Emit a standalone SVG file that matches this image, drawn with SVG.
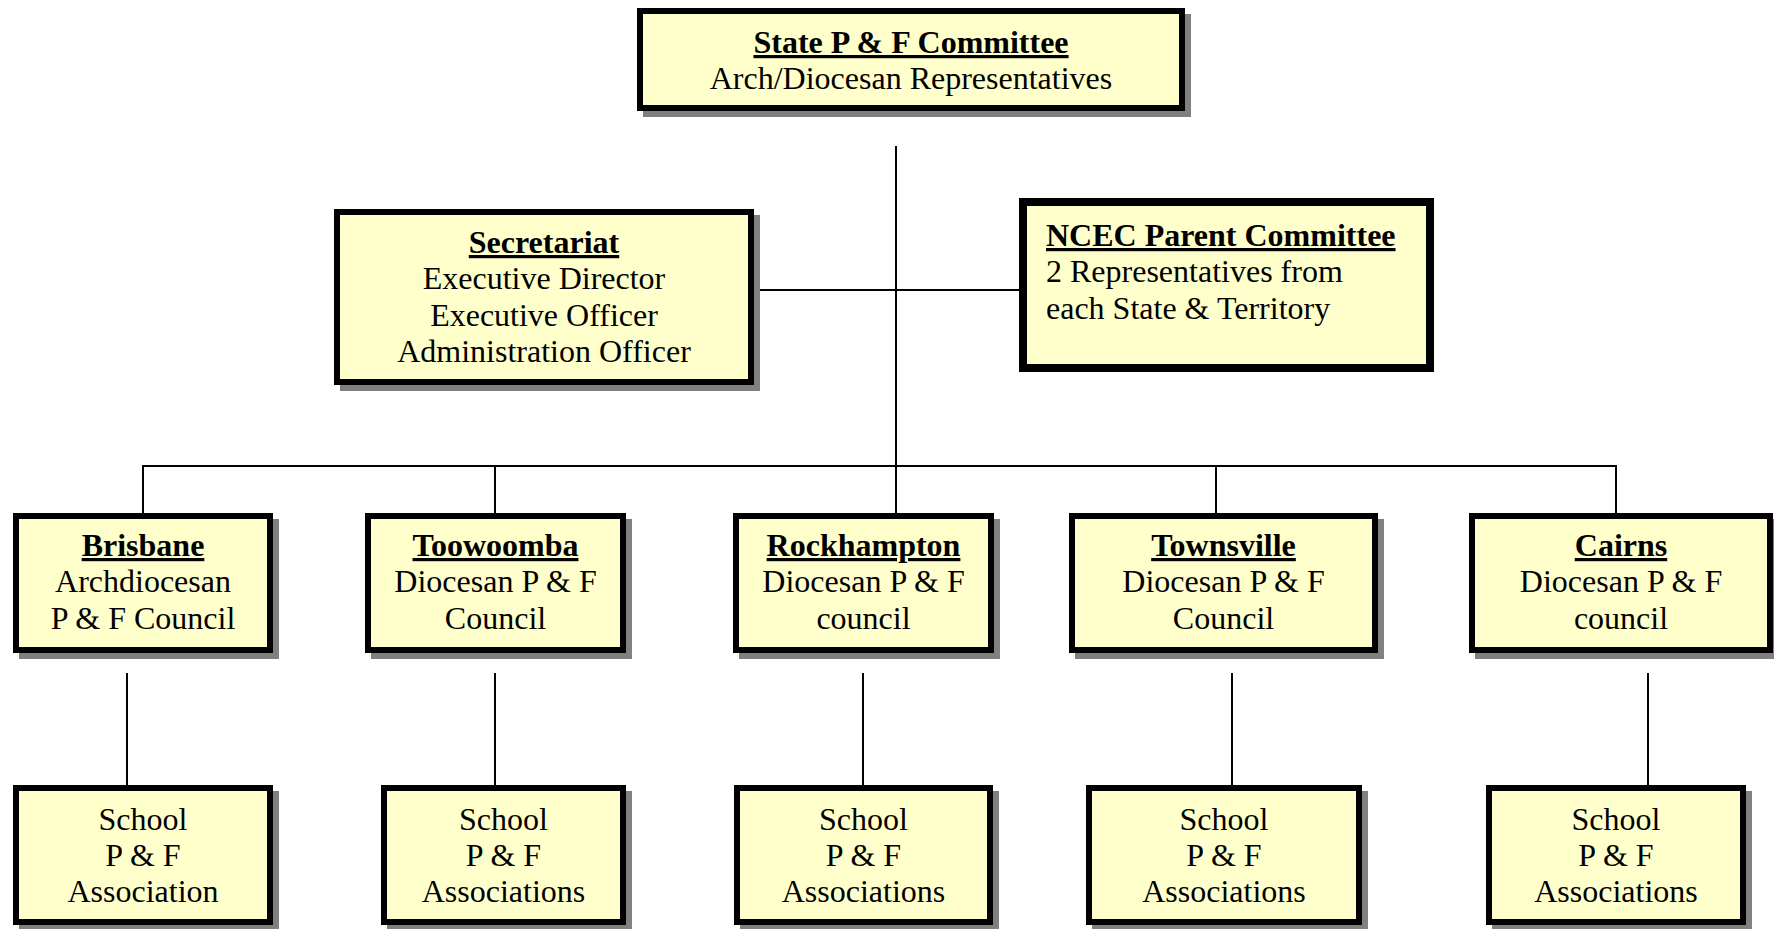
<svg xmlns="http://www.w3.org/2000/svg" width="1774" height="929" viewBox="0 0 1774 929">
<style>
  .shadow { fill: #808080; }
  .box { fill: #FFFFCC; stroke: #000000; stroke-width: 6; }
  .box8 { fill: #FFFFCC; stroke: #000000; stroke-width: 8; }
  .t { font-family: "Liberation Serif", "Times New Roman", serif; font-size: 32px; fill: #000000; text-anchor: middle; }
  .tl { font-family: "Liberation Serif", "Times New Roman", serif; font-size: 32px; fill: #000000; text-anchor: start; }
  .b { font-weight: bold; text-decoration: underline; }
  .conn line { stroke: #000000; stroke-width: 2; }
</style>
<rect width="1774" height="929" fill="#FFFFFF"/>
<g id="connectors" class="conn">
  <line x1="896" y1="146" x2="896" y2="513"/>
  <line x1="754" y1="290" x2="1019" y2="290"/>
  <line x1="142" y1="466" x2="1617" y2="466"/>
  <line x1="143" y1="466" x2="143" y2="513"/>
  <line x1="495" y1="466" x2="495" y2="513"/>
  <line x1="1216" y1="466" x2="1216" y2="513"/>
  <line x1="1616" y1="466" x2="1616" y2="513"/>
  <line x1="127" y1="673" x2="127" y2="785"/>
  <line x1="495" y1="673" x2="495" y2="785"/>
  <line x1="863" y1="673" x2="863" y2="785"/>
  <line x1="1232" y1="673" x2="1232" y2="785"/>
  <line x1="1648" y1="673" x2="1648" y2="785"/>
</g>
<g id="state">
  <rect class="shadow" x="643" y="14" width="548" height="103"/>
  <rect class="box" x="640" y="11" width="542" height="97"/>
  <text class="t b" x="911" y="53">State P &amp; F Committee</text>
  <text class="t" x="911" y="89">Arch/Diocesan Representatives</text>
</g>
<g id="secretariat">
  <rect class="shadow" x="340" y="215" width="420" height="176"/>
  <rect class="box" x="337" y="212" width="414" height="170"/>
  <text class="t b" x="544" y="253">Secretariat</text>
  <text class="t" x="544" y="289">Executive Director</text>
  <text class="t" x="544" y="326">Executive Officer</text>
  <text class="t" x="544" y="362">Administration Officer</text>
</g>
<g id="ncec">
  <rect class="box8" x="1023" y="202" width="407" height="166"/>
  <text class="tl b" x="1046" y="246">NCEC Parent Committee</text>
  <text class="tl" x="1046" y="282">2 Representatives from</text>
  <text class="tl" x="1046" y="319">each State &amp; Territory</text>
</g>
<g id="brisbane">
  <rect class="shadow" x="19" y="519" width="260" height="140"/>
  <rect class="box" x="16" y="516" width="254" height="134"/>
  <text class="t b" x="143" y="556">Brisbane</text>
  <text class="t" x="143" y="592">Archdiocesan</text>
  <text class="t" x="143" y="629">P &amp; F Council</text>
</g>
<g id="toowoomba">
  <rect class="shadow" x="371" y="519" width="261" height="140"/>
  <rect class="box" x="368" y="516" width="255" height="134"/>
  <text class="t b" x="495.5" y="556">Toowoomba</text>
  <text class="t" x="495.5" y="592">Diocesan P &amp; F</text>
  <text class="t" x="495.5" y="629">Council</text>
</g>
<g id="rockhampton">
  <rect class="shadow" x="739" y="519" width="261" height="140"/>
  <rect class="box" x="736" y="516" width="255" height="134"/>
  <text class="t b" x="863.5" y="556">Rockhampton</text>
  <text class="t" x="863.5" y="592">Diocesan P &amp; F</text>
  <text class="t" x="863.5" y="629">council</text>
</g>
<g id="townsville">
  <rect class="shadow" x="1075" y="519" width="309" height="140"/>
  <rect class="box" x="1072" y="516" width="303" height="134"/>
  <text class="t b" x="1223.5" y="556">Townsville</text>
  <text class="t" x="1223.5" y="592">Diocesan P &amp; F</text>
  <text class="t" x="1223.5" y="629">Council</text>
</g>
<g id="cairns">
  <rect class="shadow" x="1475" y="519" width="304" height="140"/>
  <rect class="box" x="1472" y="516" width="298" height="134"/>
  <text class="t b" x="1621" y="556">Cairns</text>
  <text class="t" x="1621" y="592">Diocesan P &amp; F</text>
  <text class="t" x="1621" y="629">council</text>
</g>
<g id="school-brisbane">
  <rect class="shadow" x="19" y="791" width="260" height="140"/>
  <rect class="box" x="16" y="788" width="254" height="134"/>
  <text class="t" x="143" y="830">School</text>
  <text class="t" x="143" y="866">P &amp; F</text>
  <text class="t" x="143" y="902">Association</text>
</g>
<g id="school-toowoomba">
  <rect class="shadow" x="387" y="791" width="245" height="140"/>
  <rect class="box" x="384" y="788" width="239" height="134"/>
  <text class="t" x="503.5" y="830">School</text>
  <text class="t" x="503.5" y="866">P &amp; F</text>
  <text class="t" x="503.5" y="902">Associations</text>
</g>
<g id="school-rockhampton">
  <rect class="shadow" x="740" y="791" width="259" height="140"/>
  <rect class="box" x="737" y="788" width="253" height="134"/>
  <text class="t" x="863.5" y="830">School</text>
  <text class="t" x="863.5" y="866">P &amp; F</text>
  <text class="t" x="863.5" y="902">Associations</text>
</g>
<g id="school-townsville">
  <rect class="shadow" x="1092" y="791" width="276" height="140"/>
  <rect class="box" x="1089" y="788" width="270" height="134"/>
  <text class="t" x="1224" y="830">School</text>
  <text class="t" x="1224" y="866">P &amp; F</text>
  <text class="t" x="1224" y="902">Associations</text>
</g>
<g id="school-cairns">
  <rect class="shadow" x="1492" y="791" width="260" height="140"/>
  <rect class="box" x="1489" y="788" width="254" height="134"/>
  <text class="t" x="1616" y="830">School</text>
  <text class="t" x="1616" y="866">P &amp; F</text>
  <text class="t" x="1616" y="902">Associations</text>
</g>
</svg>
